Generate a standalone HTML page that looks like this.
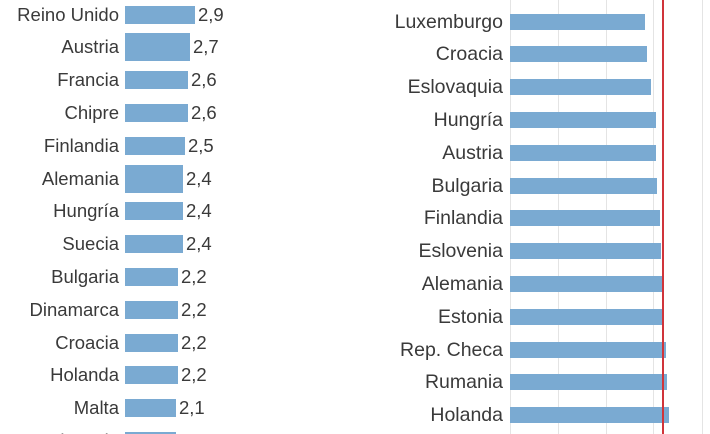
<!DOCTYPE html>
<html><head><meta charset="utf-8"><style>
html,body{margin:0;background:#fff;width:710px;height:434px;overflow:hidden;position:relative;font-family:"Liberation Sans",sans-serif;color:#3a3a3a}
.l,.v{position:absolute;font-size:18.5px;line-height:20px;white-space:nowrap}
.r{font-size:19.5px}
.l{text-align:right}
.b{position:absolute;background:#7aaad2}
.g{position:absolute;top:0;height:434px;width:1px;background:#e4e4e4}
</style></head><body>
<div id="c"></div>
<script>
var c=document.getElementById('c'),h='';
var L=[["Reino Unido",2.9,195,"2,9",18],["Austria",2.7,190,"2,7",28],["Francia",2.6,188,"2,6",18],["Chipre",2.6,188,"2,6",18],["Finlandia",2.5,185,"2,5",18],["Alemania",2.4,183,"2,4",28],["Hungría",2.4,183,"2,4",18],["Suecia",2.4,183,"2,4",18],["Bulgaria",2.2,178,"2,2",18],["Dinamarca",2.2,178,"2,2",18],["Croacia",2.2,178,"2,2",18],["Holanda",2.2,178,"2,2",18],["Malta",2.1,176,"2,1",18],["Eslovenia",2.1,176,"2,1",18]];
L.forEach(function(r,i){var cy=14.5+i*32.8;
h+='<div class="l" style="right:'+(710-119)+'px;top:'+(cy-10)+'px">'+r[0]+'</div>';
h+='<div class="b" style="left:125px;width:'+(r[2]-125)+'px;top:'+(cy-r[4]/2)+'px;height:'+r[4]+'px"></div>';
h+='<div class="v" style="left:'+(r[2]+3)+'px;top:'+(cy-10)+'px">'+r[3]+'</div>';});
[510,558,606,653,702].forEach(function(x){h+='<div class="g" style="left:'+x+'px"></div>';});
var R=[["Luxemburgo",645],["Croacia",647],["Eslovaquia",651],["Hungría",656],["Austria",656],["Bulgaria",657],["Finlandia",660],["Eslovenia",661],["Alemania",662],["Estonia",662],["Rep. Checa",666],["Rumania",667],["Holanda",669]];
R.forEach(function(r,i){var cy=21.5+i*32.8;
h+='<div class="l r" style="right:'+(710-503)+'px;top:'+(cy-10)+'px">'+r[0]+'</div>';
h+='<div class="b" style="left:510px;width:'+(r[1]-510)+'px;top:'+(cy-8)+'px;height:16px"></div>';});
h+='<div style="position:absolute;left:662px;top:0;width:2px;height:434px;background:#d0343a"></div>';
c.innerHTML=h;
</script>
</body></html>
